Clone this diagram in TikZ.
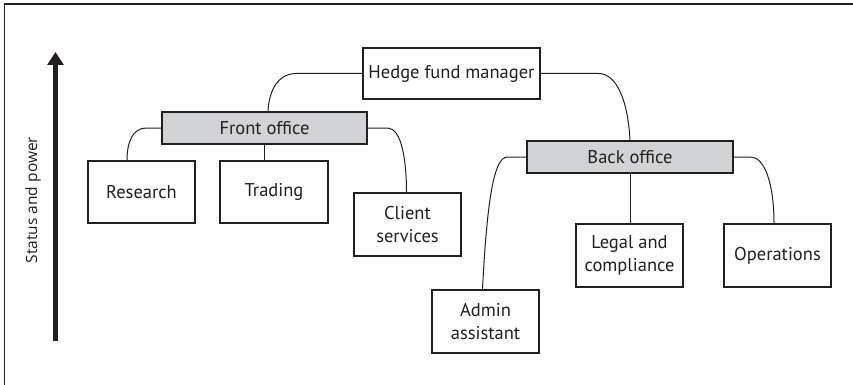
\documentclass[tikz,border=0pt]{standalone}
\usepackage{fontspec}
\setmainfont{PT Sans}
\newfontfamily\axisfont{Open Sans}
\usetikzlibrary{arrows.meta,calc}
\definecolor{ink}{HTML}{231F20}
\definecolor{officegrey}{HTML}{D1D3D4}
\begin{document}
\begin{tikzpicture}[x=1pt,y=1pt,
  box/.style={draw=ink,line width=1.1pt,fill=white,text=ink,align=center,
    inner sep=0pt,font=\fontsize{18.5}{22.5}\selectfont},
  rolebox/.style={box,minimum width=107pt,minimum height=63pt},
  officebox/.style={box,fill=officegrey,minimum width=206pt,minimum height=32pt},
  link/.style={draw=ink,line width=1pt}]
\useasboundingbox (0,0) rectangle (853,-385);
% frame edges
\draw[ink,line width=1.4pt] (853,-4) -- (4.5,-4) -- (4.5,-385);

% status axis
\coordinate (axisbot) at (55.5,-341);
\coordinate (axistop) at (55.5,-52);
\draw[ink,line width=5pt,-{Triangle[width=16pt,length=13pt]}] (axisbot) -- (axistop);
\node[rotate=90,text=ink,font=\axisfont\fontsize{15.5}{18}\selectfont] (axislabel) at (33,-200) {Status and power};

% nodes
\node[box,minimum width=177pt,minimum height=51pt] (hfm) at (451.5,-73.5) {Hedge fund manager};
\node[officebox,minimum width=205pt] (front) at (264.5,-128) {Front office};
\node[officebox] (back) at (630,-157) {Back office};
\node[rolebox,minimum height=62pt] (research) at (141.5,-192) {Research};
\node[rolebox,minimum width=108pt,minimum height=62pt] (trading) at (274,-192) {Trading};
\node[rolebox] (client) at (407.5,-224.5) {Client\\services};
\node[rolebox] (admin) at (485.5,-321.5) {Admin\\assistant};
\node[rolebox] (legal) at (629.5,-255.5) {Legal and\\compliance};
\node[rolebox] (ops) at (777.5,-255.5) {Operations};

% connectors
\path[link] (hfm.west) -- ++(-66,0) .. controls +(-18,0) and +(1,22) .. ([xshift=3.5pt]front.north);
\path[link] (hfm.east) -- ++(58,0) .. controls +(18,0) and +(-2,40) .. (back.north);
\path[link] (front.west) -- ++(-15,0) .. controls +(-14,0) and +(0,18) .. ([xshift=-14.5pt]research.north);
\path[link] (front.south) -- (front.south |- trading.north);
\path[link] (front.east) -- ++(20,0) .. controls +(14,0) and +(0,32) .. ([xshift=-1pt]client.north);
\path[link] (back.west) -- ++(-19,0) .. controls +(-12,0) and +(5,100) .. ([xshift=-3pt]admin.north);
\path[link] (back.south) -- (back.south |- legal.north);
\path[link] (back.east) -- ++(17,0) .. controls +(14,0) and +(0,40) .. ([xshift=-3.5pt]ops.north);
\end{tikzpicture}
\end{document}
